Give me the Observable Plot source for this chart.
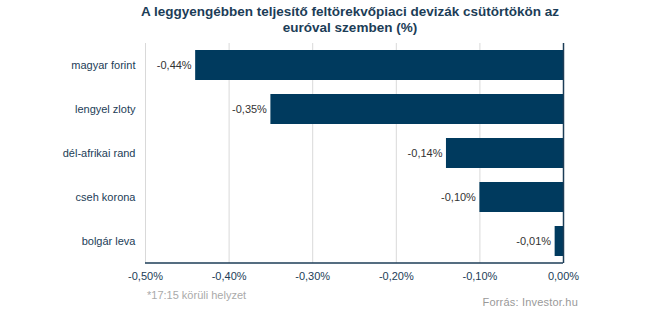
<!DOCTYPE html>
<html><head><meta charset="utf-8">
<script src="https://cdn.jsdelivr.net/npm/d3@7"></script>
<script src="https://cdn.jsdelivr.net/npm/@observablehq/plot@0.6"></script>
<style>
body{margin:0;background:#fff;}
#wrap{position:relative;width:645px;height:322px;font-family:"Liberation Sans",Arial,sans-serif;}
#title{position:absolute;top:4px;left:0;width:700px;text-align:center;font-weight:bold;font-size:13.5px;line-height:16px;color:#1c3d57;}
#note{position:absolute;left:147px;top:289px;font-size:11px;color:#aaaaaa;}
#src{position:absolute;right:67px;top:296px;font-size:11px;color:#999999;letter-spacing:0.2px;}
</style></head><body>
<div id="wrap">
<div id="title">A leggyengébben teljesítő feltörekvőpiaci devizák csütörtökön az<br>euróval szemben (%)</div>
<div id="chart"></div>
<div id="note">*17:15 körüli helyzet</div>
<div id="src">Forrás: Investor.hu</div>
</div>
<script>
const categories = ["magyar forint","lengyel zloty","dél-afrikai rand","cseh korona","bolgár leva"];
const values = [-0.44,-0.35,-0.14,-0.10,-0.01];
const ticks = [-0.5,-0.4,-0.3,-0.2,-0.1,0];
const data = categories.map((c,i)=>({cat:c,val:values[i]}));
const fmt = d => (d===0? "0,00" : d.toFixed(2).replace(".",",")) + "%";
const plot = Plot.plot({
  width:645, height:322,
  marginLeft:145, marginRight:82, marginTop:43, marginBottom:59,
  style:{fontFamily:"Liberation Sans, Arial, sans-serif", fontSize:"11px", color:"#333"},
  x:{domain:[-0.5,0], ticks:ticks, tickFormat:fmt, label:null},
  y:{domain:categories, paddingInner:0.32, paddingOuter:0.16, label:null},
  marks:[
    Plot.gridX(ticks.slice(0,-1), {stroke:"#d9d9d9", strokeOpacity:1}),
    Plot.barX(data,{x:"val", y:"cat", fill:"#003a5e"}),
    Plot.ruleX([0],{stroke:"#1c3d57", strokeWidth:1.5}),
    Plot.text(data,{x:"val", y:"cat", text:d=>fmt(d.val), textAnchor:"end", dx:-4, fill:"#333", fontSize:11}),
    Plot.axisX({ticks:ticks, tickFormat:fmt, tickSize:0, tickPadding:9, fill:"#1c3d57", fontSize:11}),
    Plot.axisY({tickSize:0, tickPadding:10, fill:"#1c3d57", fontSize:11})
  ]
});
document.getElementById("chart").appendChild(plot);
const xs = plot.scale("x");
d3.select(plot).append("line")
  .attr("x1", xs.apply(-0.5)).attr("x2", xs.apply(0))
  .attr("y1", 322-59).attr("y2", 322-59)
  .attr("stroke","#1c3d57").attr("stroke-width",1.5);
</script>
</body></html>
